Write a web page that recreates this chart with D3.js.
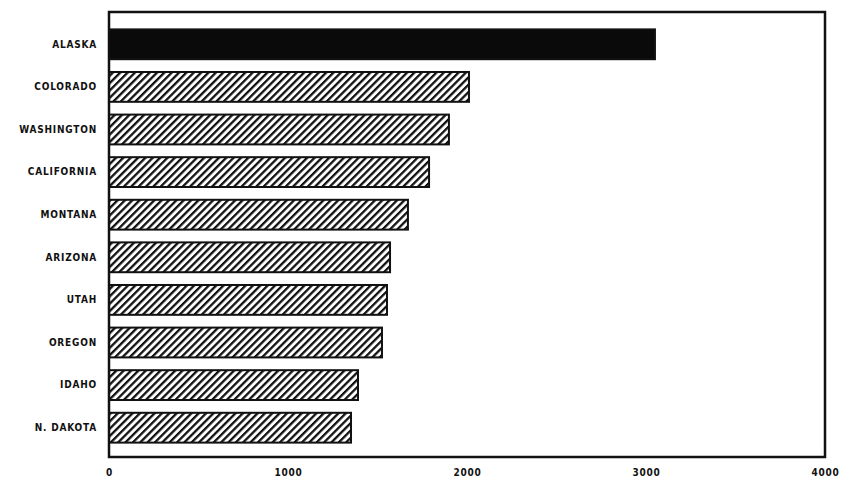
<!DOCTYPE html>
<html>
<head>
<meta charset="utf-8">
<script src="https://cdn.jsdelivr.net/npm/d3@7"></script>
<style>
  body { margin: 0; background: #fff; }
  text { font-family: "DejaVu Sans Condensed", "DejaVu Sans", sans-serif; font-weight: bold; fill: #111; }
</style>
</head>
<body>
<svg width="845" height="479"></svg>
<script>
// states, top to bottom
var states = ["ALASKA", "COLORADO", "WASHINGTON", "CALIFORNIA", "MONTANA",
              "ARIZONA", "UTAH", "OREGON", "IDAHO", "N. DAKOTA"];
var values = [3050, 2011, 1899, 1788, 1670, 1570, 1553, 1525, 1391, 1352];
var xTicks = [0, 1000, 2000, 3000, 4000];

var svg = d3.select("svg");

// plot frame (window.top is taken, so frame* names)
var frameL = 109, frameR = 825, frameT = 12, frameB = 457;

var x = d3.scaleLinear().domain([0, 4000]).range([frameL, frameR]);
var y = d3.scaleBand().domain(states).range([23, 449]).paddingInner(0.3).paddingOuter(0.15);

// hatch pattern for the bars
var defs = svg.append("defs");
var pat = defs.append("pattern")
  .attr("id", "hatch")
  .attr("patternUnits", "userSpaceOnUse")
  .attr("width", 5.2)
  .attr("height", 10)
  .attr("patternTransform", "rotate(45)");
pat.append("rect").attr("width", 5.2).attr("height", 10).attr("fill", "#fff");
pat.append("rect").attr("width", 2.3).attr("height", 10).attr("fill", "#111");

var data = states.map(function(s, i) { return { label: s, value: values[i] }; });

svg.selectAll(".bar")
  .data(data)
  .enter()
  .append("rect")
  .attr("class", "bar")
  .attr("x", x(0))
  .attr("y", function(d) { return y(d.label); })
  .attr("width", function(d) { return x(d.value) - x(0); })
  .attr("height", y.bandwidth())
  .attr("fill", function(d, i) { return i == 0 ? "#0a0a0a" : "url(#hatch)"; })
  .attr("stroke", "#111")
  .attr("stroke-width", 2);

// frame
svg.append("rect")
  .attr("x", frameL).attr("y", frameT)
  .attr("width", frameR - frameL).attr("height", frameB - frameT)
  .attr("fill", "none")
  .attr("stroke", "#111")
  .attr("stroke-width", 2.5);

// category labels
var yAxis = svg.append("g")
  .attr("transform", "translate(" + (frameL - 12) + ",0)")
  .call(d3.axisLeft(y).tickSize(0).tickPadding(0));
yAxis.select(".domain").remove();
yAxis.selectAll("text")
  .style("font-size", "10px")
  .style("letter-spacing", "0.8px")
  .attr("fill", "#111");

// value labels
var xAxis = svg.append("g")
  .attr("transform", "translate(0," + (frameB + 9) + ")")
  .call(d3.axisBottom(x).tickValues(xTicks).tickSize(0).tickFormat(d3.format("d")));
xAxis.select(".domain").remove();
xAxis.selectAll("text")
  .style("font-size", "10px")
  .style("letter-spacing", "0.8px")
  .attr("fill", "#111");
</script>
</body>
</html>
